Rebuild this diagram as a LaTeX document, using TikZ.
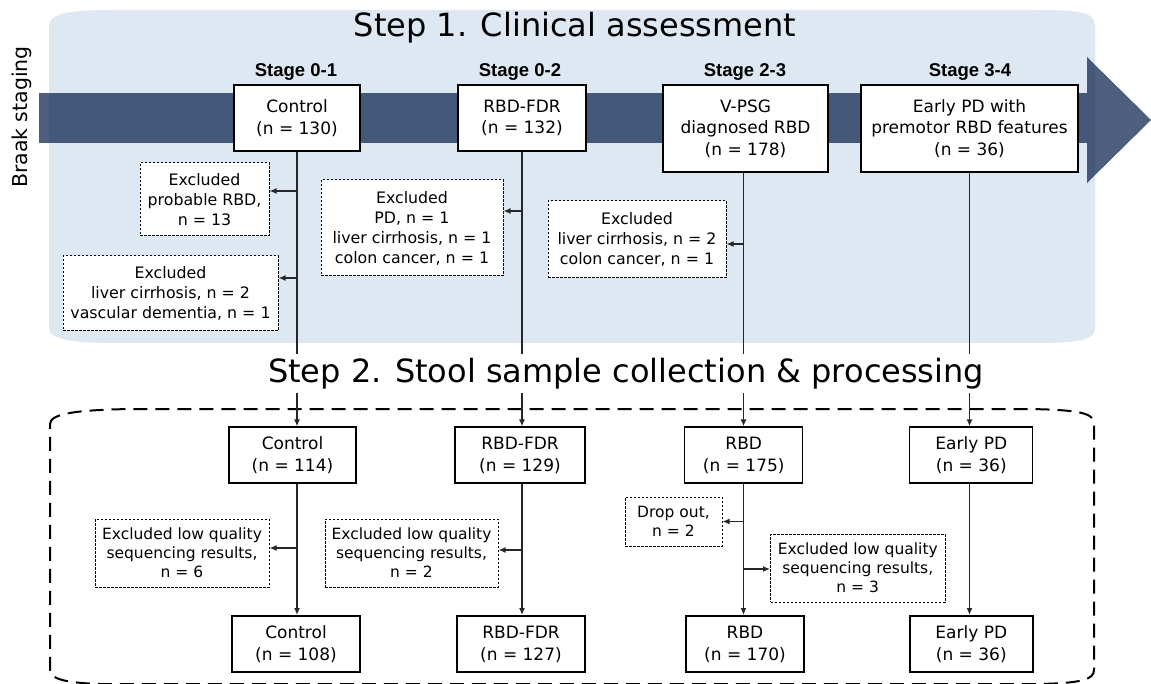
\documentclass[tikz,border=0pt]{standalone}
\usepackage{fontspec}
\setmainfont{DejaVu Sans}
\newfontfamily\arialfont{Liberation Sans}
\usetikzlibrary{arrows.meta}
\definecolor{bgblue}{HTML}{DEE8F2}
\definecolor{bandblue}{RGB}{17,41,82}
\begin{document}
\begin{tikzpicture}[x=1pt,y=-1pt,
  topbox/.style={draw=black,line width=1.8pt,fill=white,inner sep=0pt,align=center,font=\fontsize{17}{21.5}\selectfont},
  midbox/.style={draw=black,line width=1.3pt,fill=white,inner sep=0pt,align=center,font=\fontsize{17}{22}\selectfont,minimum height=56pt},
  botbox/.style={midbox,line width=2pt},
  exbox/.style={draw=black,line width=1pt,dash pattern=on 2.5pt off 1.5pt,fill=white,inner sep=0pt,align=center,font=\fontsize{15.8}{20}\selectfont},
  exboxb/.style={exbox,font=\fontsize{15.5}{19}\selectfont},
  stagelab/.style={font=\arialfont\bfseries\fontsize{18.5}{20}\selectfont,anchor=base},
  conn/.style={line width=1.3pt,draw=black!85},
  arr/.style={conn,-{Latex[length=7pt,width=6pt]}}
]
\useasboundingbox (0,0) rectangle (1151,684);
% background of step 1
\fill[bgblue] (49,26) .. controls (49,12) and (75,10) .. (115,10) -- (1035,10) .. controls (1080,10) and (1095,12) .. (1095,26) -- (1095,328) .. controls (1095,340) and (1080,343) .. (1035,343) -- (115,343) .. controls (75,343) and (49,340) .. (49,328) -- cycle;
% Braak staging band and arrow head
\fill[bandblue,opacity=0.75] (39,93) rectangle (1087,143);
\fill[bandblue,opacity=0.75] (1087,57) -- (1151,120) -- (1087,183) -- cycle;
% dashed frame of step 2
\draw[line width=2pt,dash pattern=on 14pt off 8pt] (50,424) .. controls (50,413) and (80,410) .. (130,409) -- (1030,409) .. controls (1080,410) and (1094,413) .. (1094,424) -- (1094,670) .. controls (1094,680) and (1080,683) .. (1040,684) -- (100,684) .. controls (70,683) and (50,680) .. (50,670) -- cycle;

\node[rotate=90,font=\fontsize{20.5}{22}\selectfont] (braak) at (22,117) {Braak staging};
\node[anchor=base,font=\fontsize{32}{36}\selectfont] (title1) at (575,37) {Step 1. Clinical assessment};

% stage labels
\node[stagelab] (s1) at (296,77) {Stage 0-1};
\node[stagelab] (s2) at (520,77) {Stage 0-2};
\node[stagelab] (s3) at (745,77) {Stage 2-3};
\node[stagelab] (s4) at (970,77) {Stage 3-4};

% step 1 boxes
\node[topbox,minimum width=126pt,minimum height=66pt] (c1) at (297,118) {Control\\(n = 130)};
\node[topbox,minimum width=128pt,minimum height=66pt] (f1) at (522,118) {RBD-FDR\\(n = 132)};
\node[topbox,minimum width=165pt,minimum height=87pt] (r1) at (745.5,128.5) {V-PSG\\diagnosed RBD\\(n = 178)};
\node[topbox,minimum width=217pt,minimum height=87pt] (p1) at (969.5,128.5) {Early PD with\\premotor RBD features\\(n = 36)};

% step 1 exclusions
\node[exbox,minimum width=129pt,minimum height=73pt] (e1) at (204.5,199.5) {Excluded\\probable RBD,\\n = 13};
\node[exbox,minimum width=215pt,minimum height=75pt] (e2) at (170.5,293.5) {Excluded\\liver cirrhosis, n = 2\\vascular dementia, n = 1};
\node[exbox,minimum width=182pt,minimum height=96pt] (e3) at (412,228) {Excluded\\PD, n = 1\\liver cirrhosis, n = 1\\colon cancer, n = 1};
\node[exbox,minimum width=178pt,minimum height=77pt] (e4) at (637,239.5) {Excluded\\liver cirrhosis, n = 2\\colon cancer, n = 1};

% step 2 boxes
\node[midbox,minimum width=127pt] (c2) at (292.5,455) {Control\\(n = 114)};
\node[midbox,minimum width=130pt] (f2) at (520,455) {RBD-FDR\\(n = 129)};
\node[midbox,minimum width=118pt] (r2) at (743.75,455) {RBD\\(n = 175)};
\node[midbox,minimum width=123pt] (p2) at (971.3,455) {Early PD\\(n = 36)};
\node[botbox,minimum width=128pt] (c3) at (296,644) {Control\\(n = 108)};
\node[botbox,minimum width=128pt] (f3) at (521,644) {RBD-FDR\\(n = 127)};
\node[botbox,minimum width=118pt] (r3) at (745,644) {RBD\\(n = 170)};
\node[botbox,minimum width=123pt] (p3) at (971.3,644) {Early PD\\(n = 36)};

% step 2 exclusions
\node[exboxb,minimum width=174pt,minimum height=68pt] (x1) at (182,553) {Excluded low quality\\sequencing results,\\n = 6};
\node[exboxb,minimum width=173pt,minimum height=68pt] (x2) at (411.5,553) {Excluded low quality\\sequencing results,\\n = 2};
\node[exboxb,minimum width=97pt,minimum height=49pt] (d1) at (673.5,521.5) {Drop out,\\n = 2};
\node[exboxb,minimum width=174.5pt,minimum height=68pt] (x3) at (857.75,568) {Excluded low quality\\sequencing results,\\n = 3};

% connectors from step 1 to step 2
\draw[arr] (c1.south) -- (c1.south |- c2.north);
\draw[arr] (f1.south) -- (f1.south |- f2.north);
\draw[arr] ([xshift=-2pt]r1.south) -- ([xshift=-2pt]r1.south |- r2.north);
\draw[arr] (p1.south) -- (p1.south |- p2.north);

% step 2 title, covering the connectors
\node[anchor=base,fill=white,inner xsep=2pt,inner ysep=4pt,font=\fontsize{32}{36}\selectfont] (title2) at (626,382) {Step 2. Stool sample collection \& processing};

% step 1 exclusion arrows
\coordinate (ae1) at ([yshift=8.5pt]e1.east);
\coordinate (ae2) at ([yshift=15.5pt]e2.east);
\coordinate (ae3) at ([yshift=17pt]e3.east);
\coordinate (ae4) at ([yshift=-4.5pt]e4.east);
\draw[arr] (c1.south |- ae1) -- (ae1);
\draw[arr] (c1.south |- ae2) -- (ae2);
\draw[arr] (f1.south |- ae3) -- (ae3);
\draw[arr] ([xshift=-2pt]r1.south |- ae4) -- (ae4);

% step 2 vertical arrows
\draw[arr] (c1.south |- c2.south) -- (c1.south |- c3.north);
\draw[arr] (f1.south |- f2.south) -- (f1.south |- f3.north);
\draw[arr] ([xshift=-2pt]r1.south |- r2.south) -- ([xshift=-2pt]r1.south |- r3.north);
\draw[arr] (p1.south |- p2.south) -- (p1.south |- p3.north);

% step 2 exclusion arrows
\coordinate (ax1) at ([yshift=5pt]x1.east);
\coordinate (ax2) at ([yshift=3pt]x2.east);
\coordinate (ad1) at (d1.east);
\coordinate (ax3) at ([yshift=-1pt]x3.west);
\draw[arr] (c1.south |- ax1) -- (ax1);
\draw[arr] (f1.south |- ax2) -- (ax2);
\draw[arr] ([xshift=-2pt]r1.south |- ad1) -- (ad1);
\draw[arr] ([xshift=-2pt]r1.south |- ax3) -- (ax3);
\end{tikzpicture}
\end{document}
